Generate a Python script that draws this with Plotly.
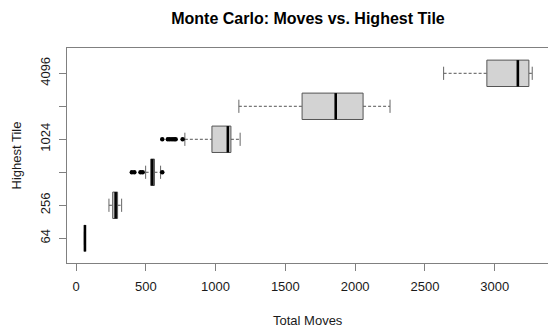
import plotly.graph_objects as go

# Monte Carlo runs: distribution of total moves per highest tile reached
tiles = ["64", "256", "512", "1024", "2048", "4096"]
whisker_lo = [60, 236, 499, 780, 1167, 2634]
q1 = [62, 263, 535, 974, 1620, 2944]
median = [64, 284, 547, 1088, 1861, 3166]
q3 = [66, 298, 562, 1110, 2057, 3245]
whisker_hi = [68, 327, 606, 1176, 2250, 3269]

# points beyond the whiskers
outlier_tile = ["512", "512", "512", "512", "512",
                "1024", "1024", "1024", "1024", "1024", "1024", "1024"]
outlier_moves = [400, 418, 462, 478, 618,
                 618, 658, 672, 688, 702, 714, 764]

# only some category labels fit on the axis
tick_text = ["64", "256", "", "1024", "", "4096"]
x_ticks = [0, 500, 1000, 1500, 2000, 2500, 3000]

pos = {t: i + 1 for i, t in enumerate(tiles)}
half = 0.4      # half box height (boxwex 0.8)
cap = 0.2       # half staple height

box_x, box_y = [], []
med_x, med_y = [], []
wh_x, wh_y = [], []
cap_x, cap_y = [], []
for t, lo, a, m, b, hi in zip(tiles, whisker_lo, q1, median, q3, whisker_hi):
    p = pos[t]
    box_x += [a, b, b, a, a, None]
    box_y += [p - half, p - half, p + half, p + half, p - half, None]
    med_x += [m, m, None]
    med_y += [p - half, p + half, None]
    wh_x += [lo, a, None, b, hi, None]
    wh_y += [p, p, None, p, p, None]
    cap_x += [lo, lo, None, hi, hi, None]
    cap_y += [p - cap, p + cap, None, p - cap, p + cap, None]

fig = go.Figure()
fig.add_trace(go.Scatter(x=wh_x, y=wh_y, mode="lines",
                         line=dict(color="#555555", width=1, dash="3px,2px"),
                         hoverinfo="skip"))
fig.add_trace(go.Scatter(x=cap_x, y=cap_y, mode="lines",
                         line=dict(color="#666666", width=1),
                         hoverinfo="skip"))
fig.add_trace(go.Scatter(x=box_x, y=box_y, mode="lines", fill="toself",
                         fillcolor="#d3d3d3",
                         line=dict(color="#555555", width=1),
                         hoverinfo="skip"))
fig.add_trace(go.Scatter(x=med_x, y=med_y, mode="lines",
                         line=dict(color="#000000", width=2.6),
                         hoverinfo="skip"))
fig.add_trace(go.Scatter(x=outlier_moves, y=[pos[t] for t in outlier_tile],
                         mode="markers",
                         marker=dict(color="#000000", size=4.5, line=dict(width=0))))

font = "Liberation Sans, Arial, sans-serif"
fig.update_layout(
    width=548, height=328,
    margin=dict(l=67, r=0, t=48, b=65),
    paper_bgcolor="white", plot_bgcolor="white",
    showlegend=False,
    font=dict(family=font, size=13, color="#1a1a1a"),
    title=dict(text="<b>Monte Carlo: Moves vs. Highest Tile</b>",
               x=308 / 548, xanchor="center", xref="container",
               y=1 - 18.5 / 328, yanchor="middle", yref="container",
               font=dict(family=font, size=16, color="#000000")),
    xaxis=dict(range=[-64.5, 3382], tickvals=x_ticks,
               ticktext=[str(v) for v in x_ticks],
               showgrid=False, zeroline=False,
               showline=True, mirror=True, linecolor="#808080", linewidth=1.2,
               ticks="outside", ticklen=7, tickcolor="#808080", tickwidth=1.2,
               ticklabelstandoff=4),
    yaxis=dict(range=[0.25, 6.767], tickvals=list(range(1, len(tiles) + 1)),
               ticktext=tick_text, tickangle=-90,
               showgrid=False, zeroline=False,
               showline=True, mirror=False, linecolor="#808080", linewidth=1.2,
               ticks="outside", ticklen=7, tickcolor="#808080", tickwidth=1.2,
               ticklabelstandoff=4),
    annotations=[
        dict(text="Total Moves", xref="paper", yref="paper",
             x=(308 - 67) / 481, y=(263 - 320) / 215,
             xanchor="center", yanchor="middle", showarrow=False,
             font=dict(family=font, size=13, color="#1a1a1a")),
        dict(text="Highest Tile", xref="paper", yref="paper",
             x=(16 - 67) / 481, y=0.5, textangle=-90,
             xanchor="center", yanchor="middle", showarrow=False,
             font=dict(family=font, size=13, color="#1a1a1a")),
    ],
)

fig.write_html("out.html")
